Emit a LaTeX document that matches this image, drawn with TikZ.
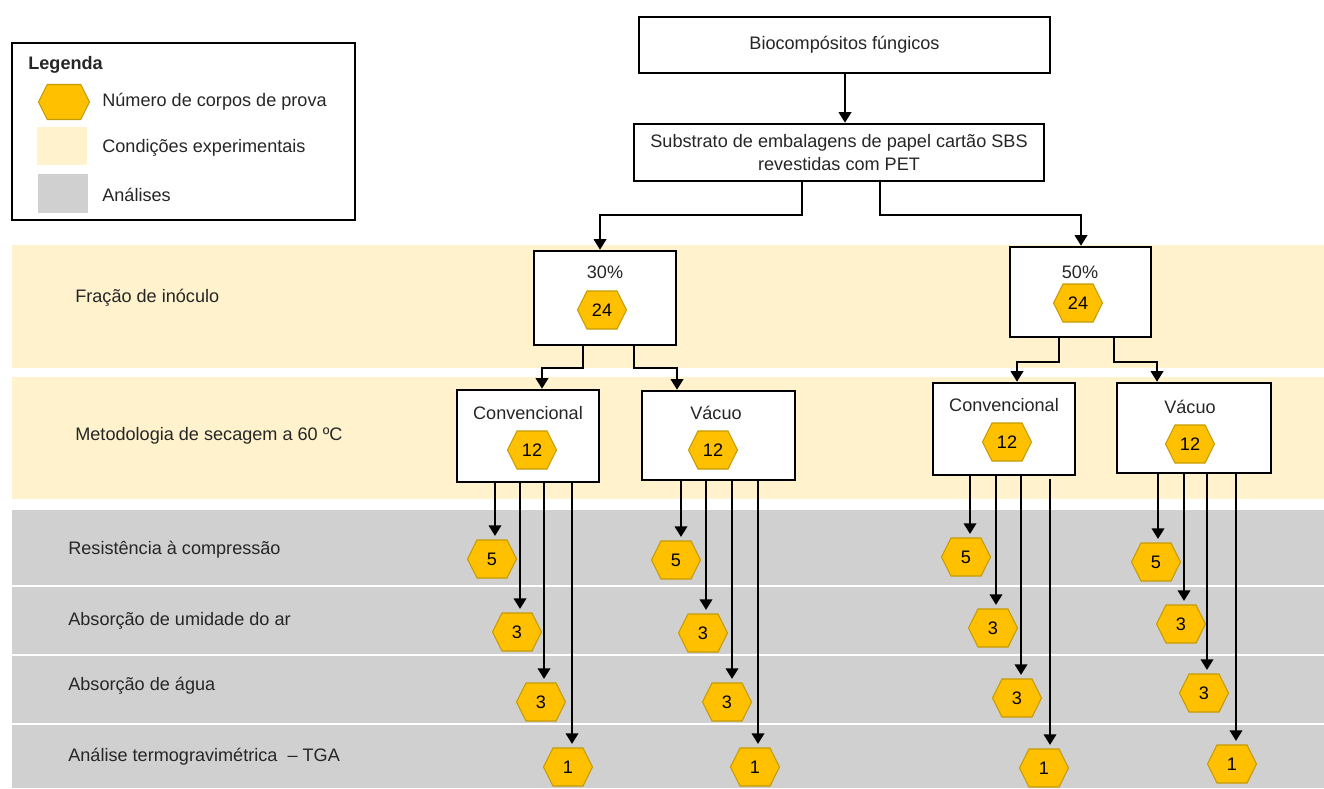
\documentclass[tikz,border=0pt]{standalone}
\usepackage{fontspec}
\setmainfont{Liberation Sans}
\usetikzlibrary{shapes.symbols,arrows.meta}
\definecolor{band}{HTML}{FFF2CC}
\definecolor{anal}{HTML}{D0D0D0}
\definecolor{hexfill}{HTML}{FFC000}
\definecolor{hexdraw}{HTML}{C49A00}
\definecolor{txt}{HTML}{262626}
\tikzset{
  box/.style={draw=black, line width=1.4pt, fill=white, inner sep=0pt},
  hexa/.style={signal, signal to=east and west, signal pointer angle=127,
    fill=hexfill, draw=hexdraw, line width=0.6pt, minimum width=0.98cm,
    minimum height=0.76cm, inner sep=0pt, text=black},
  lbl/.style={anchor=west, text=txt, inner sep=0pt},
  ttl/.style={text=txt, inner sep=0pt},
  arr/.style={line width=1.35pt, -{Triangle[length=6pt,width=7pt]}},
  arrh/.style={arr, shorten >=2pt},
}
\begin{document}
\begin{tikzpicture}[x=0.02cm, y=-0.02cm, font=\fontsize{10.3}{13.6}\selectfont]
\useasboundingbox (0,0) rectangle (1324,788);
% bands
\fill[band] (12,245) rectangle (1324,368);
\fill[band] (12,377) rectangle (1324,499);
\fill[anal] (12,510) rectangle (1324,788);
\draw[white, line width=1.4pt] (12,586) -- (1324,586);
\draw[white, line width=1.4pt] (12,655) -- (1324,655);
\draw[white, line width=1.4pt] (12,724) -- (1324,724);
% legend
\node[draw=black, line width=1.6pt, minimum width=6.86cm, minimum height=3.54cm, inner sep=0pt] (legend) at (183.5,131.5) {};
\node[lbl, font=\fontsize{10.3}{12}\selectfont\bfseries] (legt) at (28,65) {Legenda};
\node[hexa, minimum width=1.02cm, minimum height=0.70cm] (lh) at (64,102) {};
\node[lbl] (lht) at (102,102) {Número de corpos de prova};
\node[fill=band, minimum width=1.0cm, minimum height=0.76cm, inner sep=0pt] (ly) at (62,146) {};
\node[lbl] (lyt) at (102,148) {Condições experimentais};
\node[fill=anal, minimum width=1.0cm, minimum height=0.78cm, inner sep=0pt] (lg) at (63,193.5) {};
\node[lbl] (lgt) at (102,195) {Análises};
% row labels
\node[lbl] (r1) at (75,298) {Fração de inóculo};
\node[lbl] (r2) at (75,436) {Metodologia de secagem a 60 ºC};
\node[lbl] (r3) at (68,550) {Resistência à compressão};
\node[lbl] (r4) at (68,621) {Absorção de umidade do ar};
\node[lbl] (r5) at (68,686) {Absorção de água};
\node[lbl] (r6) at (68,757) {Análise termogravimétrica \ – TGA};
% main boxes
\node[box, minimum width=8.22cm, minimum height=1.12cm, text=txt] (top) at (844.5,45) {Biocompósitos fúngicos};
\node[box, minimum width=8.2cm, minimum height=1.14cm, text=txt, align=center] (sub) at (839,152.5) {Substrato de embalagens de papel cartão SBS\\revestidas com PET};
\node[box, minimum width=2.84cm, minimum height=1.88cm] (p30) at (605,298) {};
\node[ttl] (p30t) at (605,272) {30\%};
\node[hexa] (p30h) at (602,310) {24};
\node[box, minimum width=2.82cm, minimum height=1.8cm] (p50) at (1080.5,292) {};
\node[ttl] (p50t) at (1080,272) {50\%};
\node[hexa] (p50h) at (1078,303) {24};
\node[box, minimum width=2.84cm, minimum height=1.84cm] (c30) at (528,436) {};
\node[ttl] (c30t) at (528,413) {Convencional};
\node[hexa] (c30h) at (532,450) {12};
\node[box, minimum width=3.06cm, minimum height=1.78cm] (v30) at (718.5,435.5) {};
\node[ttl] (v30t) at (716,413) {Vácuo};
\node[hexa] (v30h) at (713,450) {12};
\node[box, minimum width=2.84cm, minimum height=1.84cm] (c50) at (1004,429) {};
\node[ttl] (c50t) at (1004,405) {Convencional};
\node[hexa] (c50h) at (1007,442) {12};
\node[box, minimum width=3.08cm, minimum height=1.8cm] (v50) at (1194,428) {};
\node[ttl] (v50t) at (1190,407) {Vácuo};
\node[hexa] (v50h) at (1190,444) {12};
% connectors top
\draw[arr] (top.south -| 845,0) -- (sub.north -| 845,0);
\coordinate (k1) at (802,215); \coordinate (k2) at (600,215);
\coordinate (k3) at (880,215); \coordinate (k4) at (1081,215);
\draw[arr] (sub.south -| k1) -- (k1) -- (k2) -- (k2 |- p30.north);
\draw[arr] (sub.south -| k3) -- (k3) -- (k4) -- (k4 |- p50.north);
\coordinate (m1) at (583,368); \coordinate (m2) at (542,368);
\coordinate (m3) at (634,368); \coordinate (m4) at (677,368);
\draw[arr] (p30.south -| m1) -- (m1) -- (m2) -- (m2 |- c30.north);
\draw[arr] (p30.south -| m3) -- (m3) -- (m4) -- (m4 |- v30.north);
\coordinate (n1) at (1059,362); \coordinate (n2) at (1017,362);
\coordinate (n3) at (1114,362); \coordinate (n4) at (1157,362);
\draw[arr] (p50.south -| n1) -- (n1) -- (n2) -- (n2 |- c50.north);
\draw[arr] (p50.south -| n3) -- (n3) -- (n4) -- (n4 |- v50.north);
% analysis hexagons
\node[hexa] (a1) at (492,559) {5};
\node[hexa] (a2) at (517,632) {3};
\node[hexa] (a3) at (541,702) {3};
\node[hexa] (a4) at (568,767) {1};
\node[hexa] (b1) at (676,560) {5};
\node[hexa] (b2) at (703,633) {3};
\node[hexa] (b3) at (727,702) {3};
\node[hexa] (b4) at (755,767) {1};
\node[hexa] (c1) at (966,557) {5};
\node[hexa] (c2) at (993,628) {3};
\node[hexa] (c3) at (1017,698) {3};
\node[hexa] (c4) at (1044,768) {1};
\node[hexa] (d1) at (1156,562) {5};
\node[hexa] (d2) at (1181,624) {3};
\node[hexa] (d3) at (1204,693) {3};
\node[hexa] (d4) at (1232,764) {1};
% analysis arrows
\draw[arrh] (c30.south -| 495,0) -- (a1.north -| 495,0);
\draw[arrh] (c30.south -| 520,0) -- (a2.north -| 520,0);
\draw[arrh] (c30.south -| 544,0) -- (a3.north -| 544,0);
\draw[arrh] (c30.south -| 572,0) -- (a4.north -| 572,0);
\draw[arrh] (v30.south -| 681,0) -- (b1.north -| 681,0);
\draw[arrh] (v30.south -| 706,0) -- (b2.north -| 706,0);
\draw[arrh] (v30.south -| 732,0) -- (b3.north -| 732,0);
\draw[arrh] (v30.south -| 758,0) -- (b4.north -| 758,0);
\draw[arrh] (c50.south -| 970,0) -- (c1.north -| 970,0);
\draw[arrh] (c50.south -| 996,0) -- (c2.north -| 996,0);
\draw[arrh] (c50.south -| 1021,0) -- (c3.north -| 1021,0);
\draw[arrh] ([yshift=-0.06cm]c50.south -| 1050,0) -- (c4.north -| 1050,0);
\draw[arrh] (v50.south -| 1158,0) -- (d1.north -| 1158,0);
\draw[arrh] (v50.south -| 1184,0) -- (d2.north -| 1184,0);
\draw[arrh] (v50.south -| 1207,0) -- (d3.north -| 1207,0);
\draw[arrh] (v50.south -| 1236,0) -- (d4.north -| 1236,0);
\end{tikzpicture}
\end{document}
